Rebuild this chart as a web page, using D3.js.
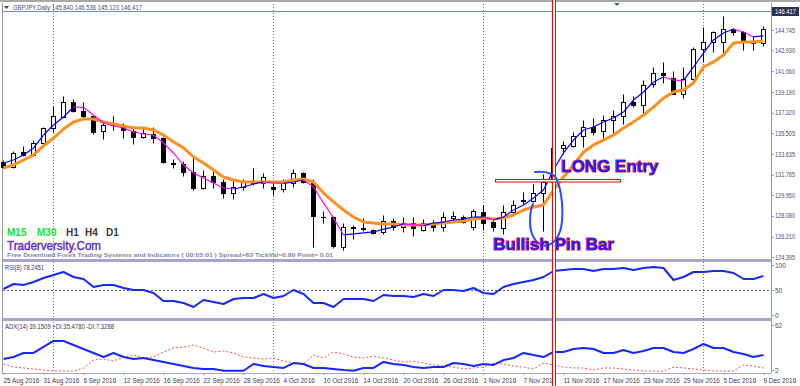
<!DOCTYPE html>
<html>
<head>
<meta charset="utf-8">
<script src="https://cdn.jsdelivr.net/npm/d3@7"></script>
<style>
  body { margin: 0; background: #fff; }
  svg { display: block; font-family: "Liberation Sans", Arial, sans-serif; }
</style>
</head>
<body>
<script>
// GBPJPY daily, 25 Aug 2016 .. 9 Dec 2016 (77 bars)
const open = [
  132.91,132.46,133.72,133.45,134.61,135.87,136.86,138.29,137.48,137.03,
  135.69,136.14,136.05,135.69,135.15,135.42,135.06,132.75,132.73,132.01,
  130.58,131.57,131.03,130.13,130.67,130.94,130.94,130.67,130.49,130.94,
  131.92,131.03,127.98,127.98,125.29,126.99,126.90,126.73,126.55,127.62,
  127.08,127.44,126.81,127.44,127.08,127.89,127.98,127.08,128.34,127.53,
  126.99,128.34,129.41,129.33,130.13,131.03,134.08,134.26,135.24,135.96,
  135.69,136.59,136.95,138.29,138.02,139.90,140.89,140.44,138.92,140.35,
  143.04,143.58,143.58,144.83,144.48,143.58,143.49];
const high = [
  133.09,133.81,134.26,134.88,135.96,137.93,138.74,138.47,138.29,137.12,
  136.41,137.03,136.32,136.05,135.96,135.96,135.15,133.18,133.00,133.27,
  132.19,132.10,131.30,131.12,131.30,132.37,131.92,131.12,131.30,132.28,
  132.01,131.30,128.43,128.07,127.44,127.26,127.89,126.90,128.16,127.89,
  127.98,127.98,127.80,127.71,128.34,128.43,128.16,128.61,128.97,127.71,
  128.97,129.50,130.22,130.85,131.75,134.17,134.79,135.60,136.59,136.77,
  137.12,137.57,138.92,138.74,140.26,141.34,141.79,140.98,141.34,143.22,
  145.01,144.57,146.00,144.92,144.57,144.12,145.10];
const low = [
  132.37,132.37,133.36,133.36,134.52,135.60,136.86,137.39,136.68,135.42,
  134.97,135.78,135.06,134.44,135.06,134.61,132.82,132.37,131.57,130.40,
  130.49,130.58,129.68,129.59,130.40,130.76,130.58,129.95,130.22,130.67,
  130.94,125.29,127.44,125.20,125.02,125.92,126.64,126.37,126.37,126.81,
  126.55,126.19,126.64,126.64,126.64,127.53,127.44,126.81,126.81,126.64,
  126.37,128.07,129.06,129.24,126.64,131.03,133.54,134.17,134.17,135.33,
  135.06,135.51,136.23,137.84,137.30,139.55,139.99,138.92,138.56,139.99,
  141.79,142.77,142.50,144.21,142.95,142.95,143.31];
const close = [
  132.46,133.63,133.45,134.61,135.87,136.95,138.29,137.48,136.95,135.60,
  136.14,136.32,135.78,135.15,135.51,135.06,132.91,132.73,132.01,130.58,
  131.57,131.03,130.13,130.67,131.03,131.12,131.48,130.49,131.03,131.92,
  131.03,128.07,127.95,125.38,127.08,127.00,126.92,126.46,127.62,127.08,
  127.44,126.99,127.44,127.08,127.98,128.07,127.53,128.43,127.44,127.08,
  128.34,128.97,129.50,130.13,131.03,134.08,134.35,135.24,135.96,135.60,
  136.59,136.95,138.29,138.02,139.81,140.89,140.71,138.92,140.35,143.04,
  143.58,144.48,144.83,144.48,143.58,143.49,144.83];

// fast MA (blue rising / magenta falling) and slow MA (orange)
const fastMA = [
  132.82,133.09,133.54,134.17,135.33,136.23,136.95,137.84,137.80,137.12,
  136.41,136.14,135.96,135.60,135.42,135.33,134.61,133.72,132.64,131.92,
  131.48,131.03,130.58,130.49,130.67,130.94,131.12,131.03,130.99,131.12,
  131.30,130.67,129.24,127.89,126.37,126.46,126.55,126.64,126.90,127.08,
  127.35,127.30,127.21,127.44,127.53,127.71,127.80,127.98,127.98,127.71,
  127.98,128.61,129.06,129.68,130.40,132.19,133.72,134.88,135.78,136.05,
  136.50,136.86,137.39,138.47,139.19,140.08,140.53,140.26,140.22,141.43,
  142.68,143.85,144.48,144.83,144.57,144.12,144.21];
const slowMA = [
  132.37,132.64,133.09,133.54,134.35,135.06,135.87,136.50,136.77,136.77,
  136.50,136.32,136.14,135.96,135.96,135.78,135.33,134.70,134.17,133.36,
  132.82,132.19,131.57,131.30,131.12,131.12,131.12,131.12,131.12,131.30,
  131.39,131.12,130.13,129.33,128.61,127.98,127.53,127.44,127.35,127.35,
  127.26,127.26,127.26,127.35,127.44,127.53,127.62,127.80,127.89,127.80,
  127.89,128.16,128.61,128.88,129.06,130.40,131.57,132.64,133.81,134.44,
  134.88,135.33,135.96,136.50,137.12,137.84,138.65,139.19,139.37,139.99,
  141.43,141.88,142.50,143.58,143.67,143.67,143.76];

const rsi = [
  52,62,60,66,74,80,86,76,72,56,
  60,60,54,50,50,44,28,28,24,16,
  30,26,22,32,34,34,42,34,38,50,
  42,24,24,16,32,32,32,28,40,38,
  38,36,42,38,50,50,48,54,44,42,
  56,62,66,70,76,88,90,92,92,88,
  92,92,94,90,94,96,94,70,76,86,
  86,88,88,84,72,72,78.25];
const adx = [
  16.7,19.3,24.7,24.7,32.7,40.7,40.7,35.3,30,24.7,
  19.3,24.7,19.3,16.7,18,15.3,12.7,10,7.3,4.7,
  3.3,3.3,1,1,1,10,7.3,6,4.7,11.3,
  10,4.7,4.7,3.3,2,1,4.7,4.7,12.7,10,
  8.7,6,4.7,6,6,11.3,10,7.3,10,8.7,
  15.3,18,24.7,22,19.3,26,26,30,31.3,30,
  24.7,24.7,28.7,24.7,27.3,31.3,31.3,26,24.7,30,
  36.7,31.3,31.3,26,23.3,19.3,22];
const minusDI = [
  10,6,4.7,3.3,2,0.7,0.5,0.5,4.7,15.3,
  16.7,14,19.3,22,18,19.3,26,31.3,32.7,35.3,
  31.3,26,27.3,24.7,19.3,18,16.7,18,14,11.3,
  10,22,18,26,23.3,19.3,18,20.7,18,15.3,
  12.7,14,11.3,8.7,7.3,6,3.3,4.7,6,11.3,
  10,7.3,6,3.3,11.3,8.7,6,4.7,4.7,2,
  4.7,4.7,3.3,2,0.7,0.5,0.5,6,4.7,3.3,
  2,0.7,0.5,0.5,8.7,7.3,4.7];

const priceTicks = [144.745,142.930,141.060,139.190,137.320,135.505,133.635,131.765,129.950,128.080,126.210,124.395];
const lastPrice = 146.417;
const rsiTicks = [0, 50, 100];
const adxTicks = [2, 62];
const dateTickBars = [0,4,8,12,16,20,24,28,32,36,40,44,48,52,56,60,64,68,72,76];
const dateLabels = ["25 Aug 2016","31 Aug 2016","6 Sep 2016","12 Sep 2016","16 Sep 2016","22 Sep 2016",
  "28 Sep 2016","4 Oct 2016","10 Oct 2016","14 Oct 2016","20 Oct 2016","26 Oct 2016","1 Nov 2016",
  "7 Nov 2016","11 Nov 2016","17 Nov 2016","23 Nov 2016","29 Nov 2016","5 Dec 2016","9 Dec 2016"];
const monthStartBars = [5, 27, 48, 70];
const pinBar = 54;

const W = 800, H = 386;
const svg = d3.select("body").append("svg").attr("width", W).attr("height", H);

const x = d3.scaleLinear().domain([0, 76]).range([3.5, 763.5]);
const yP = d3.scaleLinear().domain([124.395, 144.745]).range([257, 30]);
const yR = d3.scaleLinear().domain([0, 100]).range([315, 265]);
const yA = d3.scaleLinear().domain([2, 62]).range([370, 325]);
const px = v => Math.round(v - 0.5) + 0.5;

// frame
svg.append("rect").attr("x", 0).attr("y", 0).attr("width", W).attr("height", 2).attr("fill", "#a8a8a8");
svg.append("line").attr("x1", 2.5).attr("x2", 2.5).attr("y1", 3).attr("y2", 373).attr("stroke", "#9a9a9a");
svg.append("line").attr("x1", 2).attr("x2", 771).attr("y1", 373.5).attr("y2", 373.5).attr("stroke", "#a8a4cc");
svg.append("line").attr("x1", 771.5).attr("x2", 771.5).attr("y1", 3).attr("y2", 373).attr("stroke", "#9890c0");
svg.append("rect").attr("x", 2).attr("y", 259).attr("width", 770).attr("height", 3).attr("fill", "#a8a4cc");
svg.append("rect").attr("x", 2).attr("y", 318).attr("width", 770).attr("height", 3).attr("fill", "#a8a4cc");

// month grid
svg.selectAll("line.grid").data(monthStartBars).join("line").attr("class", "grid")
  .attr("x1", d => x(d)).attr("x2", d => x(d)).attr("y1", 4).attr("y2", 373)
  .attr("stroke", "#6e6ea0").attr("stroke-dasharray", "1,2");

// bid line
svg.append("line").attr("x1", 3).attr("x2", 771).attr("y1", px(yP(lastPrice))).attr("y2", px(yP(lastPrice)))
  .attr("stroke", "#5f9ea0");
svg.append("path").attr("d", "M614,3L620,3L617,6Z").attr("fill", "#2f6f6f");

// title
svg.append("path").attr("d", "M4,6L9,6L6.5,9Z").attr("fill", "#40406a");
svg.append("text").attr("x", 13).attr("y", 10).attr("font-size", 6.4).attr("fill", "#4a4a78")
  .attr("textLength", 129).attr("lengthAdjust", "spacingAndGlyphs")
  .text("GBPJPY,Daily  145.840 146.536 145.123 146.417");

// candles
const bars = d3.range(open.length);
const candle = svg.append("g");
candle.selectAll("line").data(bars).join("line")
  .attr("x1", i => x(i)).attr("x2", i => x(i))
  .attr("y1", i => px(yP(high[i]))).attr("y2", i => px(yP(low[i])))
  .attr("stroke", "#000");
candle.selectAll("rect").data(bars).join("rect")
  .attr("x", i => x(i) - 2).attr("width", 4)
  .attr("y", i => px(yP(Math.max(open[i], close[i]))))
  .attr("height", i => Math.max(0.01, px(yP(Math.min(open[i], close[i]))) - px(yP(Math.max(open[i], close[i])))))
  .attr("fill", i => close[i] >= open[i] ? "#fff" : "#000")
  .attr("stroke", "#000");

// slow MA
svg.append("path").datum(bars)
  .attr("d", d3.line().x(i => x(i)).y(i => yP(slowMA[i])))
  .attr("fill", "none").attr("stroke", "#ff9020").attr("stroke-width", 3).attr("stroke-linejoin", "round");

// fast MA, coloured by slope
svg.selectAll("line.fast").data(d3.pairs(bars)).join("line").attr("class", "fast")
  .attr("x1", d => x(d[0])).attr("x2", d => x(d[1]))
  .attr("y1", d => yP(fastMA[d[0]])).attr("y2", d => yP(fastMA[d[1]]))
  .attr("stroke", d => fastMA[d[1]] < fastMA[d[0]] ? "#ff00ff" : "#0000ff")
  .attr("stroke-width", 1.2);

// price axis
const pAxis = svg.append("g").attr("transform", "translate(771,0)")
  .call(d3.axisRight(yP).tickValues(priceTicks).tickSize(3).tickPadding(1).tickFormat(d3.format(".3f")));
pAxis.select(".domain").remove();
pAxis.selectAll("line").attr("stroke", "#9890c0");
pAxis.selectAll("text").attr("font-size", 6.5).attr("fill", "#4a4a7a").attr("font-family", "Liberation Sans, Arial")
  .attr("textLength", 20).attr("lengthAdjust", "spacingAndGlyphs");
svg.append("rect").attr("x", 772).attr("y", px(yP(lastPrice)) - 4.5).attr("width", 27).attr("height", 9).attr("fill", "#2c3058");
svg.append("text").attr("x", 775).attr("y", px(yP(lastPrice)) + 2.3).attr("font-size", 6.5).attr("fill", "#fff")
  .attr("textLength", 21).attr("lengthAdjust", "spacingAndGlyphs").text(d3.format(".3f")(lastPrice));

// RSI panel
svg.append("line").attr("x1", 3).attr("x2", 771).attr("y1", px(yR(50))).attr("y2", px(yR(50)))
  .attr("stroke", "#6060a0").attr("stroke-dasharray", "2,2");
svg.append("path").datum(bars)
  .attr("d", d3.line().x(i => x(i)).y(i => yR(rsi[i])))
  .attr("fill", "none").attr("stroke", "#1428ff").attr("stroke-width", 2).attr("stroke-linejoin", "round");
const rAxis = svg.append("g").attr("transform", "translate(771,0)")
  .call(d3.axisRight(yR).tickValues(rsiTicks).tickSize(3).tickPadding(1));
rAxis.select(".domain").remove();
rAxis.selectAll("line").attr("stroke", "#9890c0");
rAxis.selectAll("text").attr("font-size", 6.5).attr("fill", "#4a4a7a").attr("font-family", "Liberation Sans, Arial");
svg.append("text").attr("x", 5).attr("y", 269.5).attr("font-size", 6.4).attr("fill", "#3a3a5a")
  .attr("textLength", 39).attr("lengthAdjust", "spacingAndGlyphs").text("RSI(8) 78.2451");

// ADX panel
svg.append("path").datum(bars)
  .attr("d", d3.line().x(i => x(i)).y(i => yA(minusDI[i])))
  .attr("fill", "none").attr("stroke", "#ff4a4a").attr("stroke-width", 1).attr("stroke-dasharray", "2,2");
svg.append("path").datum(bars)
  .attr("d", d3.line().x(i => x(i)).y(i => yA(adx[i])))
  .attr("fill", "none").attr("stroke", "#1428ff").attr("stroke-width", 2).attr("stroke-linejoin", "round");
const aAxis = svg.append("g").attr("transform", "translate(771,0)")
  .call(d3.axisRight(yA).tickValues(adxTicks).tickSize(3).tickPadding(1));
aAxis.select(".domain").remove();
aAxis.selectAll("line").attr("stroke", "#9890c0");
aAxis.selectAll("text").attr("font-size", 6.5).attr("fill", "#4a4a7a").attr("font-family", "Liberation Sans, Arial");
svg.append("text").attr("x", 5).attr("y", 328.5).attr("font-size", 6.4).attr("fill", "#3a3a5a")
  .attr("textLength", 109).attr("lengthAdjust", "spacingAndGlyphs").text("ADX(14) 39.1509 +DI:35.4780 -DI:7.3288");

// date axis
const dAxis = svg.append("g").attr("transform", "translate(0,373)")
  .call(d3.axisBottom(x).tickValues(dateTickBars).tickSize(2).tickPadding(3).tickFormat((d, i) => dateLabels[i]));
dAxis.select(".domain").remove();
dAxis.selectAll("line").attr("stroke", "#9890c0");
dAxis.selectAll("text").attr("text-anchor", "start").attr("dx", -0.5).attr("font-size", 6.4)
  .attr("fill", "#3a3a5a").attr("font-family", "Liberation Sans, Arial");

// timeframe buttons / watermark
const tf = [["M15", 7, "#22e022"], ["M30", 37, "#22e022"], ["H1", 66, "#3a3a3a"], ["H4", 85, "#3a3a3a"], ["D1", 106, "#3a3a3a"]];
svg.selectAll("text.tf").data(tf).join("text").attr("class", "tf")
  .attr("x", d => d[1]).attr("y", 236).attr("font-size", 10).attr("font-weight", "bold")
  .attr("fill", d => d[2]).text(d => d[0]);
svg.append("text").attr("x", 7).attr("y", 250).attr("font-size", 12.5).attr("fill", "#1848ff")
  .attr("stroke", "#ff3a3a").attr("stroke-width", 0.6).attr("paint-order", "stroke")
  .attr("textLength", 94).attr("lengthAdjust", "spacingAndGlyphs").text("Traderversity.Com");
svg.append("text").attr("x", 7).attr("y", 257).attr("font-size", 6).attr("font-weight", "bold").attr("fill", "#7a86a8")
  .attr("textLength", 326).attr("lengthAdjust", "spacingAndGlyphs")
  .text("Free Download Forex Trading Systems and Indicators  ( 00:05:01 )  Spread=63  TickVal=0.89  Point= 0.01");

// annotations
const ax = x(pinBar + 1);
svg.append("rect").attr("x", px(ax - 1.5)).attr("y", -2).attr("width", 3).attr("height", H + 4)
  .attr("fill", "#fff").attr("stroke", "#ff0000");
svg.append("rect").attr("x", 495.5).attr("y", px(yP(131.3))).attr("width", 125).attr("height", 2.5)
  .attr("fill", "#fff").attr("stroke", "#ff0000");
svg.append("path")
  .attr("d", "M535,172C545,171 552,172 556,178C562,190 564,212 561,228C558,240 550,248 542,245C534,242 530,232 530,222C530,214 531,208 533,204")
  .attr("fill", "none").attr("stroke", "#2a4cff").attr("stroke-width", 2).attr("stroke-linecap", "round");
svg.append("text").attr("x", 561).attr("y", 171.5).attr("font-size", 17).attr("font-weight", "bold")
  .attr("fill", "#2020ff").attr("stroke", "#ff1010").attr("stroke-width", 1.2).attr("paint-order", "stroke")
  .text("LONG Entry");
svg.append("text").attr("x", 493).attr("y", 250).attr("font-size", 17).attr("font-weight", "bold")
  .attr("fill", "#2020ff").attr("stroke", "#ff1010").attr("stroke-width", 1.2).attr("paint-order", "stroke")
  .text("Bullish Pin Bar");
</script>
</body>
</html>
